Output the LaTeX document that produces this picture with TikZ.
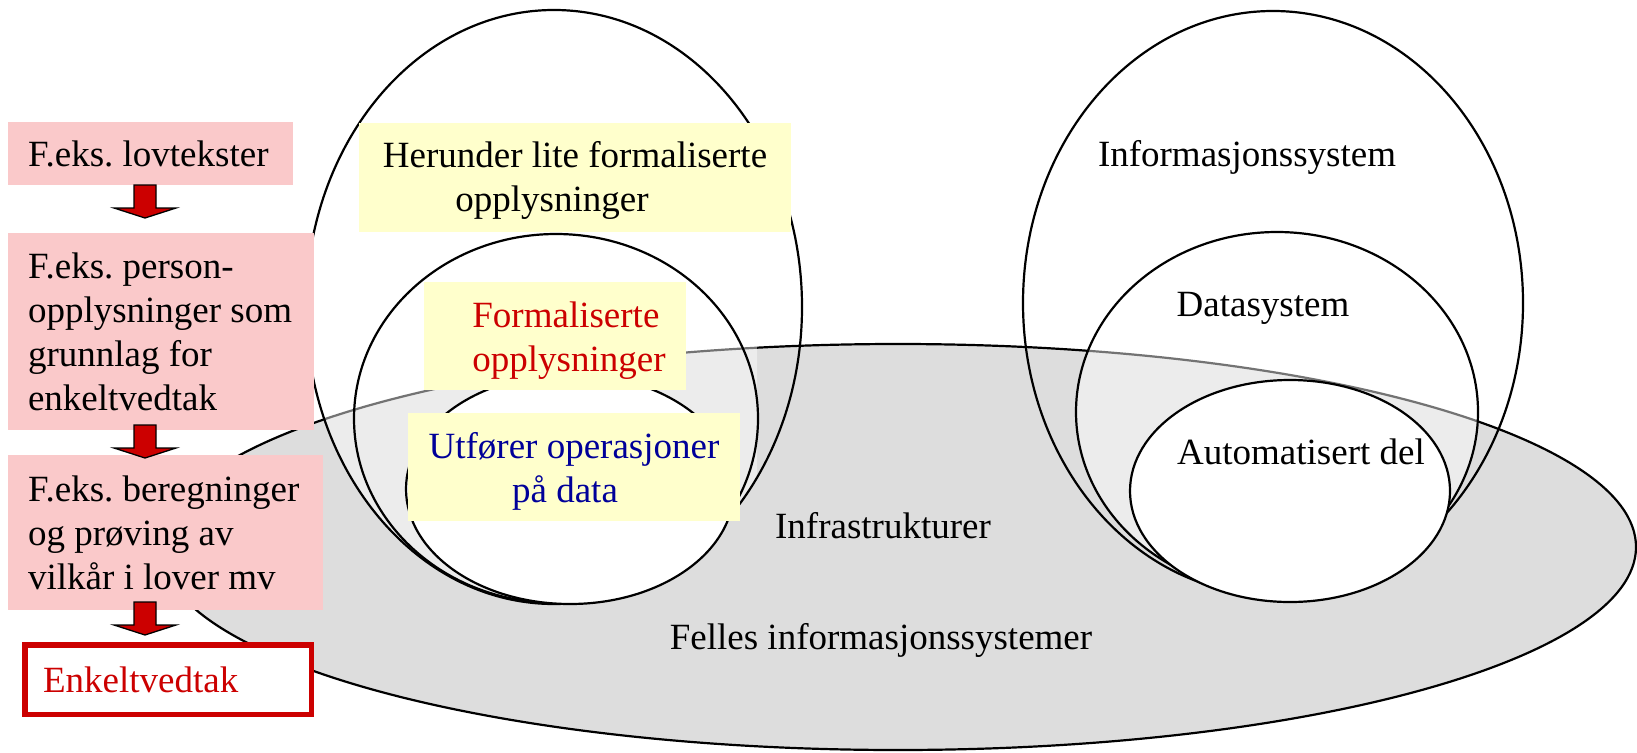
\documentclass[tikz,border=0pt]{standalone}
\usepackage{fontspec}
\setmainfont{Liberation Serif}
\definecolor{pinkbg}{RGB}{250,201,202}
\definecolor{yellowbg}{RGB}{255,255,204}
\definecolor{darkred}{RGB}{204,0,0}
\definecolor{navyblue}{RGB}{0,0,153}
\definecolor{grayfill}{RGB}{221,221,221}
\frenchspacing
\tikzset{
  downarrow/.pic={
    \filldraw[fill=darkred, draw=black, line width=1.3pt, line join=miter]
      (-11,0) -- (11,0) -- (11,23) -- (31,23) -- (0,33) -- (-31,23) -- (-11,23) -- cycle;
  }
}
\begin{document}
\begin{tikzpicture}[x=1pt,y=-1pt, line width=2.2pt,
  every node/.style={font=\fontsize{37}{44}\selectfont, inner sep=0pt},
  pinkbox/.style={fill=pinkbg, inner xsep=20pt, inner ysep=0pt, align=flush left},
  yellowbox/.style={fill=yellowbg, inner sep=0pt},
  lbl/.style={anchor=base},
  overlay/.style={white, fill opacity=.45}]
\useasboundingbox (0,0) rectangle (1637,752);
\fill[white] (0,0) rectangle (1637,752);

% common information systems (grey ellipse)
\filldraw[fill=grayfill, draw=black] (898,547) ellipse [x radius=738pt, y radius=203pt];

% lighter overlays
\begin{scope}
  \clip (554,307) ellipse [x radius=248pt, y radius=297pt];
  \clip (0,0) rectangle (757,752);
  \fill[overlay] (0,0) rectangle (1637,752);
\end{scope}
\begin{scope}
  \clip (1277,412) ellipse [x radius=201pt, y radius=180pt];
  \fill[overlay] (0,0) rectangle (1637,752);
\end{scope}

% left group of circles
\draw (554,307) ellipse [x radius=248pt, y radius=297pt];
\draw (556,418.5) ellipse [x radius=202pt, y radius=184.5pt];
\filldraw[fill=white] (570,489) ellipse [x radius=164pt, y radius=115pt];

% right group of circles
\draw (1273,303) ellipse [x radius=250pt, y radius=292pt];
\draw (1277,412) ellipse [x radius=201pt, y radius=180pt];
\filldraw[fill=white] (1290,491) ellipse [x radius=160pt, y radius=111pt];

% yellow boxes
\node[yellowbox, minimum width=432pt, minimum height=109.5pt, align=center] (y1) at (575,177.25)
  {\rule{0pt}{32pt}Herunder lite formaliserte\\opplysninger\kern46pt};
\node[yellowbox, minimum width=262pt, minimum height=108pt, align=left, text=darkred] (y2) at (555,336)
  {\rule{0pt}{35pt}\kern28pt Formaliserte\\\kern28pt opplysninger};
\node[yellowbox, minimum width=332pt, minimum height=108pt, align=center, text=navyblue] (y3) at (574,467)
  {\rule{0pt}{35pt}Utfører operasjoner\\på data\kern18pt};

% pink boxes on the left
\node[pinkbox, minimum width=285pt, minimum height=63pt, text width=245pt] (b1) at (150.5,153.5)
  {F.eks.~lovtekster};
\node[pinkbox, minimum width=306pt, minimum height=197pt, text width=266pt] (b2) at (161,331.5)
  {F.eks.~person-\\opplysninger~som\\grunnlag~for\\enkeltvedtak};
\node[pinkbox, minimum width=315pt, minimum height=155pt, text width=275pt] (b3) at (165.5,532.5)
  {F.eks.~beregninger\\og~prøving~av\\vilkår~i~lover~mv};
\node[draw=darkred, line width=5.5pt, fill=white, text=darkred, inner xsep=18.25pt, align=flush left,
      minimum width=286.5pt, minimum height=69.5pt, text width=250pt] (b4) at (168,679.5)
  {Enkeltvedtak};

% block arrows
\pic (a1) at (145,185) {downarrow};
\pic (a2) at (145,425) {downarrow};
\pic (a3) at (145,602) {downarrow};

% labels
\node[lbl] (t1) at (1247,166) {Informasjonssystem};
\node[lbl] (t2) at (1263,316) {Datasystem};
\node[lbl] (t3) at (1301,464) {Automatisert del};
\node[lbl] (t4) at (883,538) {Infrastrukturer};
\node[lbl] (t5) at (881,649) {Felles informasjonssystemer};
\end{tikzpicture}
\end{document}
